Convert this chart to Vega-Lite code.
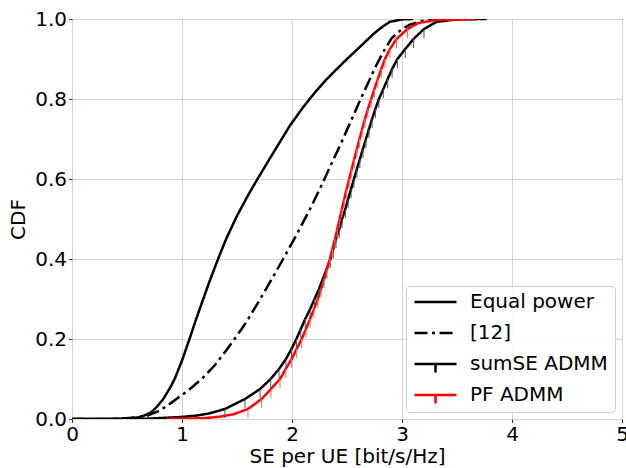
{
  "$schema": "https://vega.github.io/schema/vega-lite/v6.json",
  "autosize": {"type": "none"},
  "width": 550,
  "height": 400,
  "padding": {"left": 72, "top": 19, "right": 4, "bottom": 49},
  "background": "white",
  "config": {
    "font": "DejaVu Sans",
    "view": {"stroke": "#555", "strokeWidth": 1},
    "axis": {
      "labelFont": "DejaVu Sans", "labelFontSize": 20, "labelColor": "black",
      "titleFont": "DejaVu Sans", "titleFontSize": 20, "titleFontWeight": "normal", "titleColor": "black",
      "grid": true, "gridColor": "#d3d3d3", "gridWidth": 1,
      "domain": false, "tickSize": 3.5, "tickColor": "#333", "tickWidth": 1,
      "labelPadding": 2, "labelFlush": false, "labelOverlap": false
    },
    "legend": {
      "orient": "bottom-right", "offset": 7, "title": null,
      "labelFont": "DejaVu Sans", "labelFontSize": 20, "labelColor": "black",
      "strokeColor": "#cccccc", "fillColor": "rgba(255,255,255,0.85)", "cornerRadius": 4,
      "padding": 7, "rowPadding": 11, "clipHeight": 18,
      "symbolSize": 1764, "symbolStrokeWidth": 2.5, "labelOffset": 12, "symbolOffset": 0
    }
  },
  "data": {"values": [
    {"s":"Equal power","x":0,"cdf":0},{"s":"Equal power","x":0.3,"cdf":0},{"s":"Equal power","x":0.5,"cdf":0.001},{"s":"Equal power","x":0.6,"cdf":0.004},{"s":"Equal power","x":0.66,"cdf":0.009},{"s":"Equal power","x":0.72,"cdf":0.017},{"s":"Equal power","x":0.77,"cdf":0.03},{"s":"Equal power","x":0.83,"cdf":0.05},{"s":"Equal power","x":0.9,"cdf":0.082},{"s":"Equal power","x":0.936,"cdf":0.102},{"s":"Equal power","x":1.0,"cdf":0.146},{"s":"Equal power","x":1.067,"cdf":0.199},{"s":"Equal power","x":1.12,"cdf":0.243},{"s":"Equal power","x":1.188,"cdf":0.296},{"s":"Equal power","x":1.25,"cdf":0.344},{"s":"Equal power","x":1.345,"cdf":0.412},{"s":"Equal power","x":1.406,"cdf":0.453},{"s":"Equal power","x":1.5,"cdf":0.508},{"s":"Equal power","x":1.6,"cdf":0.559},{"s":"Equal power","x":1.68,"cdf":0.597},{"s":"Equal power","x":1.8,"cdf":0.652},{"s":"Equal power","x":1.98,"cdf":0.733},{"s":"Equal power","x":2.1,"cdf":0.779},{"s":"Equal power","x":2.21,"cdf":0.817},{"s":"Equal power","x":2.3,"cdf":0.845},{"s":"Equal power","x":2.375,"cdf":0.866},{"s":"Equal power","x":2.5,"cdf":0.9},{"s":"Equal power","x":2.62,"cdf":0.931},{"s":"Equal power","x":2.75,"cdf":0.965},{"s":"Equal power","x":2.83,"cdf":0.982},{"s":"Equal power","x":2.89,"cdf":0.993},{"s":"Equal power","x":3.0,"cdf":0.999},{"s":"Equal power","x":3.1,"cdf":1.0},
    {"s":"[12]","x":0,"cdf":0},{"s":"[12]","x":0.3,"cdf":0},{"s":"[12]","x":0.45,"cdf":0.001},{"s":"[12]","x":0.6,"cdf":0.004},{"s":"[12]","x":0.68,"cdf":0.008},{"s":"[12]","x":0.8,"cdf":0.021},{"s":"[12]","x":0.92,"cdf":0.044},{"s":"[12]","x":1.05,"cdf":0.07},{"s":"[12]","x":1.18,"cdf":0.1},{"s":"[12]","x":1.3,"cdf":0.135},{"s":"[12]","x":1.42,"cdf":0.178},{"s":"[12]","x":1.55,"cdf":0.228},{"s":"[12]","x":1.62,"cdf":0.258},{"s":"[12]","x":1.75,"cdf":0.318},{"s":"[12]","x":1.92,"cdf":0.4},{"s":"[12]","x":2.04,"cdf":0.46},{"s":"[12]","x":2.164,"cdf":0.525},{"s":"[12]","x":2.27,"cdf":0.585},{"s":"[12]","x":2.345,"cdf":0.63},{"s":"[12]","x":2.45,"cdf":0.692},{"s":"[12]","x":2.557,"cdf":0.758},{"s":"[12]","x":2.624,"cdf":0.8},{"s":"[12]","x":2.7,"cdf":0.845},{"s":"[12]","x":2.755,"cdf":0.878},{"s":"[12]","x":2.83,"cdf":0.918},{"s":"[12]","x":2.906,"cdf":0.952},{"s":"[12]","x":3.0,"cdf":0.975},{"s":"[12]","x":3.07,"cdf":0.986},{"s":"[12]","x":3.22,"cdf":0.9975},{"s":"[12]","x":3.4,"cdf":1.0},
    {"s":"sumSE ADMM","x":0,"cdf":0},{"s":"sumSE ADMM","x":0.5,"cdf":0},{"s":"sumSE ADMM","x":0.7,"cdf":0.001},{"s":"sumSE ADMM","x":0.99,"cdf":0.005},{"s":"sumSE ADMM","x":1.13,"cdf":0.0085},{"s":"sumSE ADMM","x":1.25,"cdf":0.014},{"s":"sumSE ADMM","x":1.39,"cdf":0.025},{"s":"sumSE ADMM","x":1.573,"cdf":0.05},{"s":"sumSE ADMM","x":1.71,"cdf":0.075},{"s":"sumSE ADMM","x":1.806,"cdf":0.1},{"s":"sumSE ADMM","x":1.882,"cdf":0.125},{"s":"sumSE ADMM","x":1.945,"cdf":0.15},{"s":"sumSE ADMM","x":1.995,"cdf":0.175},{"s":"sumSE ADMM","x":2.04,"cdf":0.2},{"s":"sumSE ADMM","x":2.08,"cdf":0.225},{"s":"sumSE ADMM","x":2.12,"cdf":0.25},{"s":"sumSE ADMM","x":2.165,"cdf":0.275},{"s":"sumSE ADMM","x":2.205,"cdf":0.3},{"s":"sumSE ADMM","x":2.245,"cdf":0.325},{"s":"sumSE ADMM","x":2.28,"cdf":0.35},{"s":"sumSE ADMM","x":2.315,"cdf":0.375},{"s":"sumSE ADMM","x":2.35,"cdf":0.4},{"s":"sumSE ADMM","x":2.375,"cdf":0.425},{"s":"sumSE ADMM","x":2.4,"cdf":0.45},{"s":"sumSE ADMM","x":2.43,"cdf":0.475},{"s":"sumSE ADMM","x":2.455,"cdf":0.5},{"s":"sumSE ADMM","x":2.485,"cdf":0.525},{"s":"sumSE ADMM","x":2.51,"cdf":0.55},{"s":"sumSE ADMM","x":2.537,"cdf":0.575},{"s":"sumSE ADMM","x":2.563,"cdf":0.6},{"s":"sumSE ADMM","x":2.59,"cdf":0.625},{"s":"sumSE ADMM","x":2.617,"cdf":0.65},{"s":"sumSE ADMM","x":2.645,"cdf":0.675},{"s":"sumSE ADMM","x":2.672,"cdf":0.7},{"s":"sumSE ADMM","x":2.7,"cdf":0.725},{"s":"sumSE ADMM","x":2.728,"cdf":0.75},{"s":"sumSE ADMM","x":2.758,"cdf":0.775},{"s":"sumSE ADMM","x":2.79,"cdf":0.8},{"s":"sumSE ADMM","x":2.83,"cdf":0.825},{"s":"sumSE ADMM","x":2.87,"cdf":0.85},{"s":"sumSE ADMM","x":2.91,"cdf":0.875},{"s":"sumSE ADMM","x":2.958,"cdf":0.9},{"s":"sumSE ADMM","x":3.03,"cdf":0.925},{"s":"sumSE ADMM","x":3.105,"cdf":0.95},{"s":"sumSE ADMM","x":3.2,"cdf":0.975},{"s":"sumSE ADMM","x":3.315,"cdf":0.993},{"s":"sumSE ADMM","x":3.5,"cdf":0.999},{"s":"sumSE ADMM","x":3.77,"cdf":1.0},
    {"s":"PF ADMM","x":0.86,"cdf":0},{"s":"PF ADMM","x":1.2,"cdf":0.002},{"s":"PF ADMM","x":1.35,"cdf":0.006},{"s":"PF ADMM","x":1.47,"cdf":0.012},{"s":"PF ADMM","x":1.6,"cdf":0.025},{"s":"PF ADMM","x":1.724,"cdf":0.05},{"s":"PF ADMM","x":1.809,"cdf":0.075},{"s":"PF ADMM","x":1.891,"cdf":0.1},{"s":"PF ADMM","x":1.943,"cdf":0.125},{"s":"PF ADMM","x":1.997,"cdf":0.15},{"s":"PF ADMM","x":2.042,"cdf":0.175},{"s":"PF ADMM","x":2.088,"cdf":0.2},{"s":"PF ADMM","x":2.127,"cdf":0.225},{"s":"PF ADMM","x":2.164,"cdf":0.25},{"s":"PF ADMM","x":2.2,"cdf":0.275},{"s":"PF ADMM","x":2.235,"cdf":0.3},{"s":"PF ADMM","x":2.264,"cdf":0.325},{"s":"PF ADMM","x":2.292,"cdf":0.35},{"s":"PF ADMM","x":2.318,"cdf":0.375},{"s":"PF ADMM","x":2.345,"cdf":0.4},{"s":"PF ADMM","x":2.367,"cdf":0.425},{"s":"PF ADMM","x":2.39,"cdf":0.45},{"s":"PF ADMM","x":2.412,"cdf":0.475},{"s":"PF ADMM","x":2.433,"cdf":0.5},{"s":"PF ADMM","x":2.454,"cdf":0.525},{"s":"PF ADMM","x":2.475,"cdf":0.55},{"s":"PF ADMM","x":2.497,"cdf":0.575},{"s":"PF ADMM","x":2.52,"cdf":0.6},{"s":"PF ADMM","x":2.543,"cdf":0.625},{"s":"PF ADMM","x":2.566,"cdf":0.65},{"s":"PF ADMM","x":2.59,"cdf":0.675},{"s":"PF ADMM","x":2.614,"cdf":0.7},{"s":"PF ADMM","x":2.638,"cdf":0.725},{"s":"PF ADMM","x":2.663,"cdf":0.75},{"s":"PF ADMM","x":2.69,"cdf":0.775},{"s":"PF ADMM","x":2.72,"cdf":0.8},{"s":"PF ADMM","x":2.75,"cdf":0.825},{"s":"PF ADMM","x":2.78,"cdf":0.85},{"s":"PF ADMM","x":2.812,"cdf":0.875},{"s":"PF ADMM","x":2.845,"cdf":0.9},{"s":"PF ADMM","x":2.89,"cdf":0.925},{"s":"PF ADMM","x":2.95,"cdf":0.95},{"s":"PF ADMM","x":3.05,"cdf":0.975},{"s":"PF ADMM","x":3.15,"cdf":0.99},{"s":"PF ADMM","x":3.315,"cdf":0.9975},{"s":"PF ADMM","x":3.67,"cdf":1.0}
  ]},
  "encoding": {
    "x": {"field": "x", "type": "quantitative", "scale": {"domain": [0, 5], "nice": false, "zero": false},
          "axis": {"title": "SE per UE [bit/s/Hz]", "values": [0, 1, 2, 3, 4, 5], "format": "d", "titlePadding": 2}},
    "y": {"field": "cdf", "type": "quantitative", "scale": {"domain": [0, 1], "nice": false},
          "axis": {"title": "CDF", "values": [0, 0.2, 0.4, 0.6, 0.8, 1.0], "format": ".1f", "titlePadding": 6}}
  },
  "layer": [
    {
      "mark": {"type": "line", "strokeWidth": 2.5, "clip": true},
      "encoding": {
        "color": {"field": "s", "type": "nominal",
                  "scale": {"domain": ["Equal power", "[12]", "sumSE ADMM", "PF ADMM"], "range": ["black", "black", "black", "red"]}},
        "strokeDash": {"field": "s", "type": "nominal",
                  "scale": {"domain": ["Equal power", "[12]", "sumSE ADMM", "PF ADMM"], "range": [[1, 0], [13, 4.5, 3, 4.5], [1, 0], [1, 0]]}}
      }
    },
    {
      "transform": [{"filter": "datum.s === 'sumSE ADMM' && datum.cdf >= 0.024 && datum.cdf <= 0.976"}],
      "mark": {"type": "tick", "orient": "vertical", "size": 9, "thickness": 1, "yOffset": 4.5, "color": "#555555", "opacity": 1}
    },
    {
      "transform": [{"filter": "datum.s === 'PF ADMM' && datum.cdf >= 0.024 && datum.cdf <= 0.976"}],
      "mark": {"type": "tick", "orient": "vertical", "size": 9, "thickness": 1, "yOffset": 4.5, "color": "#f07070", "opacity": 1}
    },
    {
      "transform": [{"filter": "datum.cdf > 1"}],
      "mark": {"type": "point", "filled": false, "opacity": 1, "strokeWidth": 2.5},
      "encoding": {
        "color": {"field": "s", "type": "nominal"},
        "strokeDash": {"field": "s", "type": "nominal"},
        "shape": {"field": "s", "type": "nominal",
                  "scale": {"domain": ["Equal power", "[12]", "sumSE ADMM", "PF ADMM"], "range": ["stroke", "stroke", "M-1,0H1M0,0V0.4", "M-1,0H1M0,0V0.4"]}}
      }
    }
  ]
}
